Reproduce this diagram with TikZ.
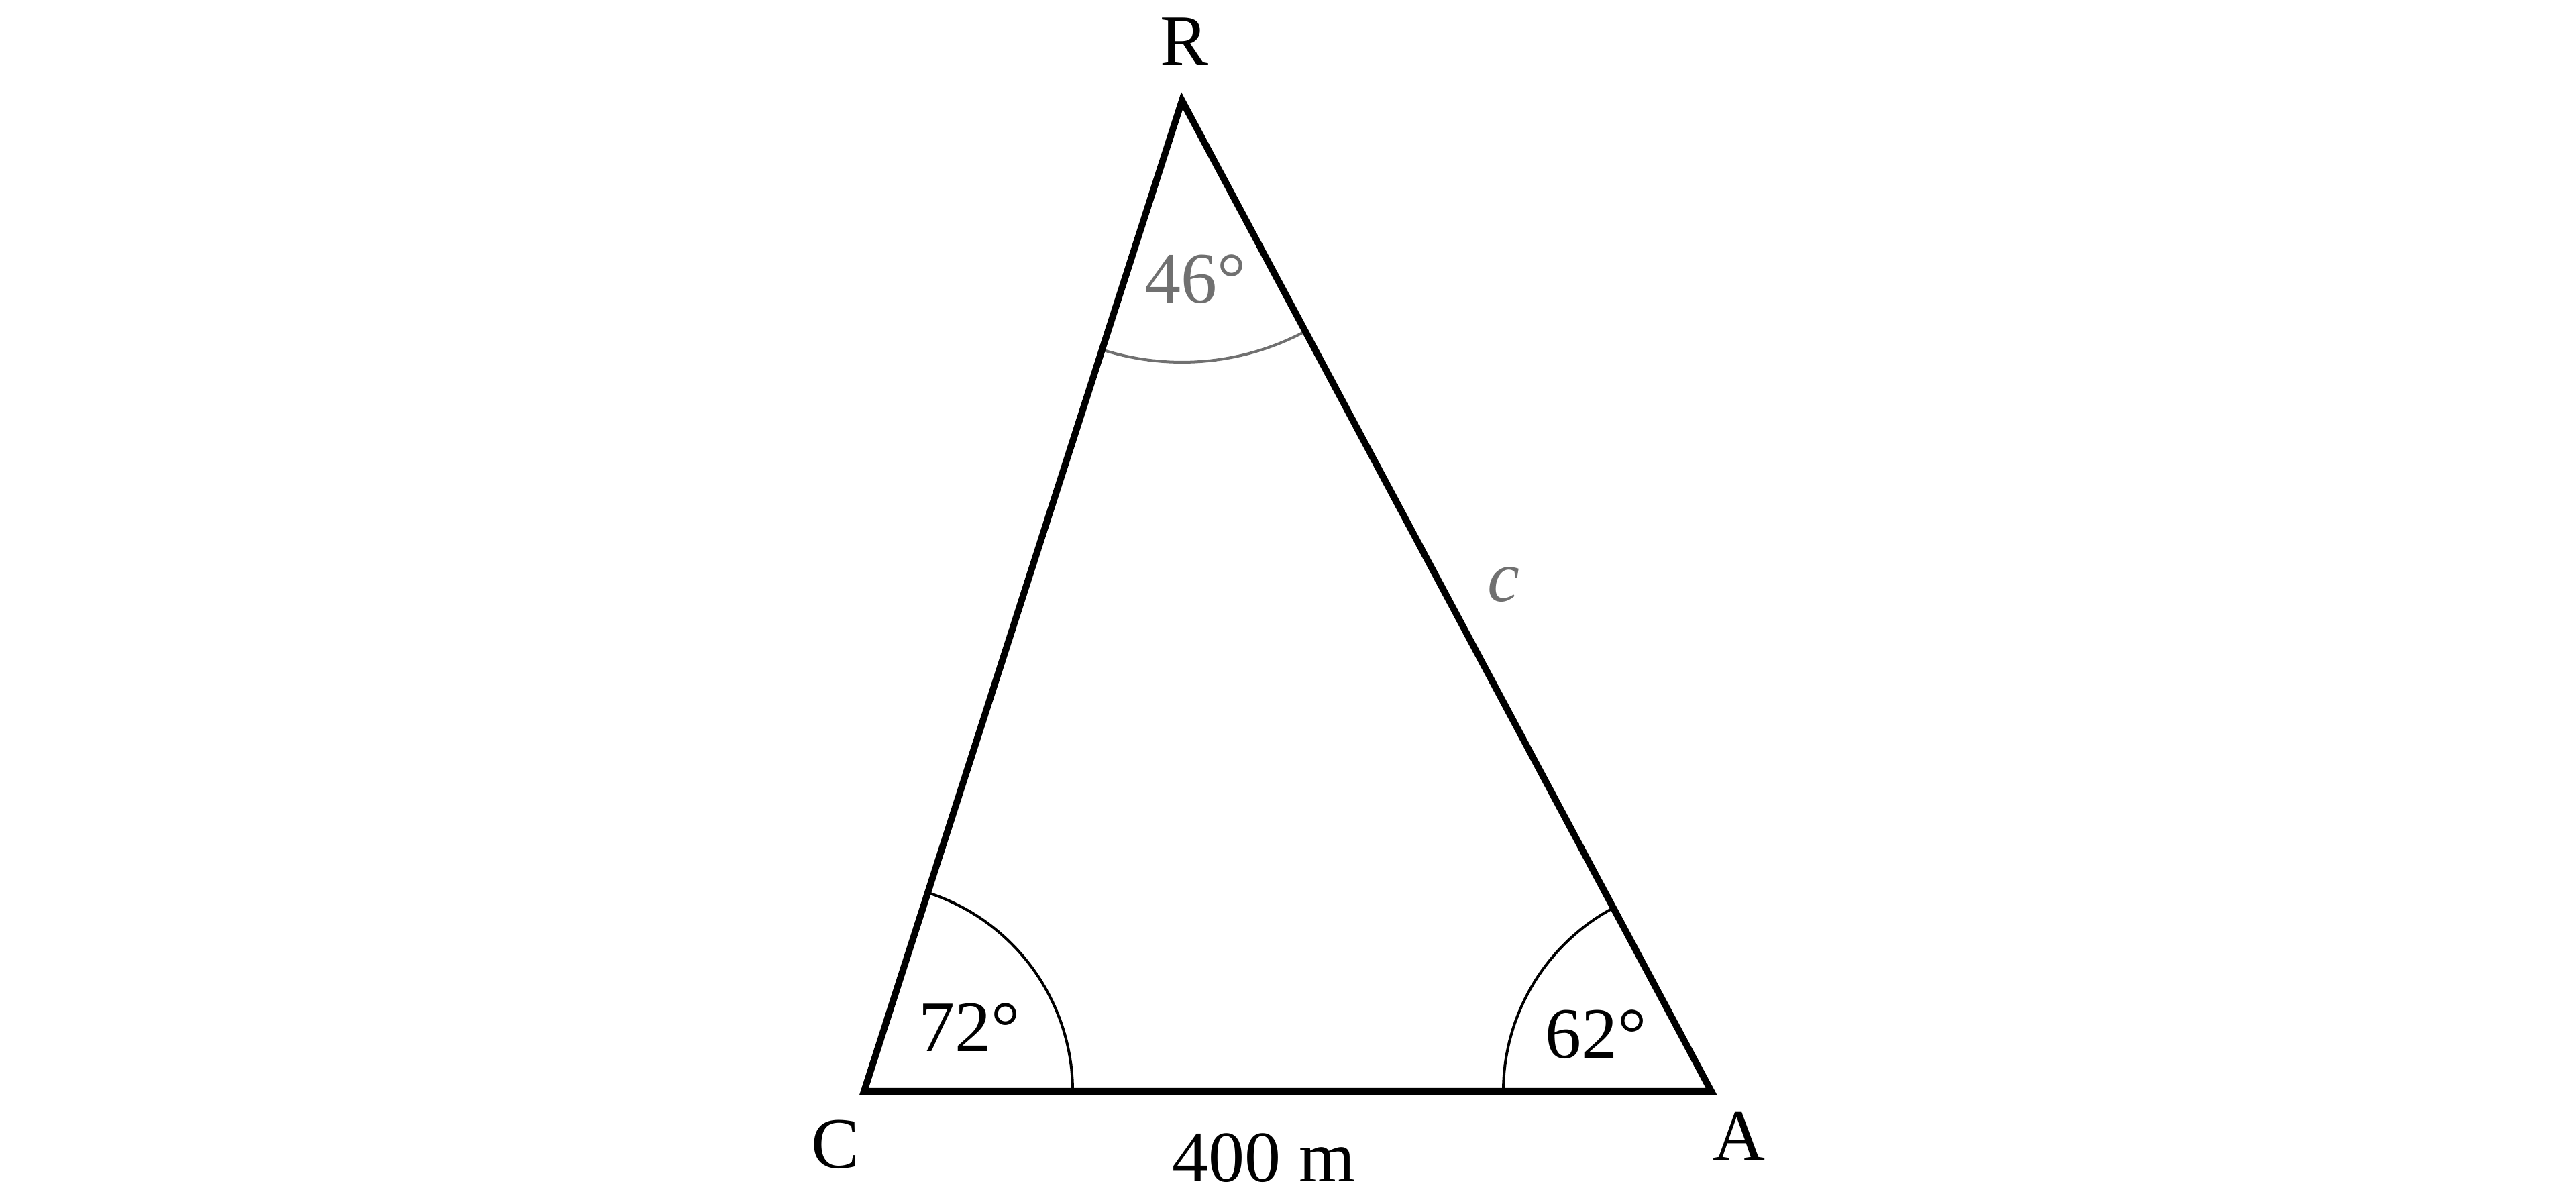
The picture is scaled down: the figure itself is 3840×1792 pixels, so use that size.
\documentclass[tikz,border=0pt]{standalone}
\usepackage{fontspec}
\setmainfont{Liberation Serif}
\definecolor{anglegray}{RGB}{112,112,112}
\begin{document}
\begin{tikzpicture}[x=0.01cm,y=0.01cm,
  side/.style={line width=0.1cm,line join=miter},
  anglearc/.style={line width=0.04cm},
  lbl/.style={inner sep=0pt,anchor=base,font=\fontsize{30.7}{36}\selectfont}]
\useasboundingbox (0,0) rectangle (3840,1792);
\coordinate (C) at (1288,165);
\coordinate (A) at (2551,165);
\coordinate (R) at (1762,1642);
% angle arcs
\draw[anglearc] (C) ++(0:311) arc[start angle=0,end angle=72.2,radius=311];
\draw[anglearc] (A) ++(118.1:310) arc[start angle=118.1,end angle=180,radius=310];
\draw[anglearc,anglegray] (R) ++(252.2:390) arc[start angle=252.2,end angle=298.1,radius=390];
% triangle
\draw[side] (C) -- (A) -- (R) -- cycle;
% labels
\node[lbl] (lR) at (1765,1694) {R};
\node[lbl] (lC) at (1245,50) {C};
\node[lbl] (lA) at (2592,62) {A};
\node[lbl] (l72) at (1445,224) {72°};
\node[lbl] (l62) at (2379,214) {62°};
\node[lbl,text=anglegray] (l46) at (1782,1340) {46°};
\node[lbl,text=anglegray] (lc) at (2241,895) {\textit{c}};
\node[lbl] (l400) at (1884,30) {400 m};
\end{tikzpicture}
\end{document}
